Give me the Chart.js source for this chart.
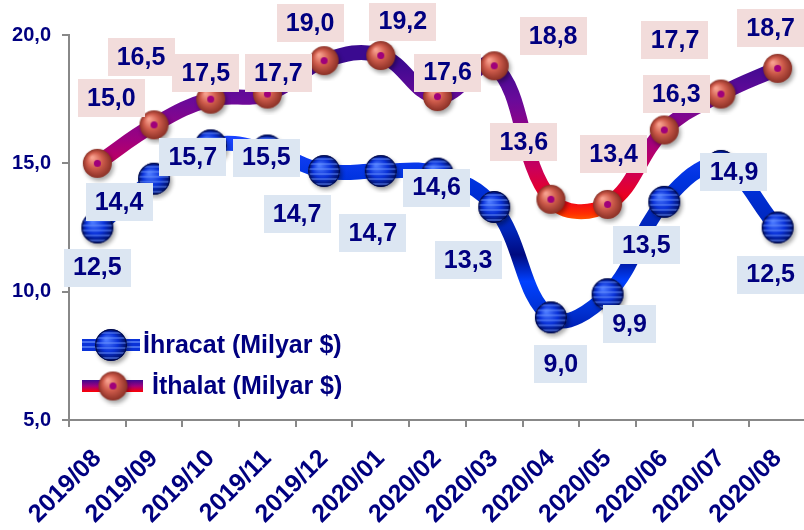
<!DOCTYPE html>
<html>
<head>
<meta charset="utf-8">
<script src="https://cdn.jsdelivr.net/npm/chart.js@4.4.1/dist/chart.umd.min.js"></script>
<style>
  html, body { margin: 0; padding: 0; background: #fff; overflow: hidden; }
  #kutu { width: 825px; height: 530px; }
</style>
</head>
<body>
<div id="kutu"><canvas id="grafik" width="825" height="530"></canvas></div>
<script>
// veriler (Milyar $)
const aylar = ['2019/08', '2019/09', '2019/10', '2019/11', '2019/12', '2020/01', '2020/02',
               '2020/03', '2020/04', '2020/05', '2020/06', '2020/07', '2020/08'];
const ihracat = [12.5, 14.4, 15.7, 15.5, 14.7, 14.7, 14.6, 13.3, 9.0, 9.9, 13.5, 14.9, 12.5];
const ithalat = [15.0, 16.5, 17.5, 17.7, 19.0, 19.2, 17.6, 18.8, 13.6, 13.4, 16.3, 17.7, 18.7];
const yTikler = [5, 10, 15, 20];
const seriAdlari = ['İhracat (Milyar $)', 'İthalat (Milyar $)'];

// etiket kutularinin noktaya gore kaymasi [dx, dy] (px)
const ihrKayma = [[0, 40], [-35, 23], [-18, 12], [-1, 7], [-27, 43], [-8, 62], [-1, 14],
                  [-26, 53], [10, 47], [22, 30], [-18, 43], [13, 6], [-7, 47]];
const ithKayma = [[14, -65], [-13, -68], [-5, -26], [11, -21], [-14, -38], [22, -34], [10, -24],
                  [59, -30], [-27, -57], [6, -50], [12, -36], [-46, -54], [-7, -40]];

const LACI = '#000080';
const FONT = '"Liberation Sans", Arial, sans-serif';
const fmt = v => v.toFixed(1).replace('.', ',');

// kure seklinde nokta resimleri
function maviKure(r) {
  const s = r * 2 + 12, c = document.createElement('canvas');
  c.width = c.height = s;
  const g = c.getContext('2d'), m = s / 2;
  g.save();
  g.shadowColor = 'rgba(0,0,0,0.35)'; g.shadowBlur = 4; g.shadowOffsetX = 2; g.shadowOffsetY = 3;
  const rg = g.createRadialGradient(m - r * 0.3, m - r * 0.35, 1, m, m, r);
  rg.addColorStop(0, '#4a78ff'); rg.addColorStop(0.55, '#0a32d8'); rg.addColorStop(1, '#000e60');
  g.beginPath(); g.arc(m, m, r, 0, Math.PI * 2); g.fillStyle = rg; g.fill();
  g.restore();
  g.save();
  g.beginPath(); g.arc(m, m, r, 0, Math.PI * 2); g.clip();
  g.fillStyle = 'rgba(110,150,255,0.45)';
  for (let k = -r + 3; k < r; k += 5) g.fillRect(m - r, m + k, r * 2, 2);
  g.restore();
  g.beginPath(); g.arc(m, m, r - 0.5, 0, Math.PI * 2);
  g.strokeStyle = '#000a4a'; g.lineWidth = 1; g.stroke();
  return c;
}

function kirmiziKure(r) {
  const s = r * 2 + 12, c = document.createElement('canvas');
  c.width = c.height = s;
  const g = c.getContext('2d'), m = s / 2;
  g.save();
  g.shadowColor = 'rgba(0,0,0,0.35)'; g.shadowBlur = 4; g.shadowOffsetX = 2; g.shadowOffsetY = 3;
  const rg = g.createRadialGradient(m - r * 0.35, m - r * 0.4, 1, m, m, r);
  rg.addColorStop(0, '#f7a08e'); rg.addColorStop(0.5, '#cf5c4c'); rg.addColorStop(1, '#8a3026');
  g.beginPath(); g.arc(m, m, r, 0, Math.PI * 2); g.fillStyle = rg; g.fill();
  g.restore();
  g.beginPath(); g.arc(m, m, 3.5, 0, Math.PI * 2); g.fillStyle = '#a0007a'; g.fill();
  return c;
}

const maviNokta = maviKure(16);
const kirmiziNokta = kirmiziKure(14.5);

function ihrRenk(c) {
  const ch = c.chart, y = ch.scales.y;
  if (!ch.chartArea || !y) return '#0a32d8';
  const g = ch.ctx.createLinearGradient(0, y.getPixelForValue(16), 0, y.getPixelForValue(8));
  g.addColorStop(0, '#1a44ff');
  g.addColorStop(0.2, '#0033e0');
  g.addColorStop(0.45, '#0025b8');
  g.addColorStop(0.57, '#000a80');
  g.addColorStop(0.7, '#0040ff');
  g.addColorStop(0.85, '#0030d0');
  g.addColorStop(1, '#00109a');
  return g;
}

function ithRenk(c) {
  const ch = c.chart, y = ch.scales.y;
  if (!ch.chartArea || !y) return '#7a0a9a';
  const g = ch.ctx.createLinearGradient(0, y.getPixelForValue(20), 0, y.getPixelForValue(12.5));
  g.addColorStop(0.13, '#3a0a90');
  g.addColorStop(0.34, '#6a0a9a');
  g.addColorStop(0.55, '#a0007e');
  g.addColorStop(0.70, '#cc0058');
  g.addColorStop(0.86, '#f00018');
  g.addColorStop(0.93, '#ff3000');
  g.addColorStop(1, '#ff8c00');
  return g;
}

// deger etiketleri (kutulu)
const etiketEklentisi = {
  id: 'etiketler',
  afterDatasetsDraw(chart) {
    const ctx = chart.ctx;
    const kaymalar = [ihrKayma, ithKayma];
    const zeminler = ['#dce6f2', '#f2dcdb'];
    ctx.save();
    ctx.font = 'bold 25px ' + FONT;
    ctx.textAlign = 'center';
    ctx.textBaseline = 'middle';
    chart.data.datasets.forEach((ds, i) => {
      chart.getDatasetMeta(i).data.forEach((pt, j) => {
        const [dx, dy] = kaymalar[i][j];
        const txt = fmt(ds.data[j]);
        const w = Math.round(ctx.measureText(txt).width + 18), h = 38;
        const x = pt.x + dx, y = pt.y + dy;
        ctx.fillStyle = zeminler[i];
        ctx.fillRect(Math.round(x - w / 2), Math.round(y - h / 2), w, h);
        ctx.fillStyle = LACI;
        ctx.fillText(txt, x, y + 1);
      });
    });
    ctx.restore();
  }
};

// grafik icindeki lejant
const lejantEklentisi = {
  id: 'lejant',
  afterDraw(chart) {
    const ctx = chart.ctx, a = chart.chartArea;
    const x0 = a.left + 13;
    ctx.save();
    // ihracat
    let y = a.top + 310;
    ctx.fillStyle = '#0a32d8';
    ctx.fillRect(x0, y - 6, 58, 12);
    ctx.fillStyle = 'rgba(110,150,255,0.6)';
    ctx.fillRect(x0, y - 4, 58, 2);
    ctx.fillRect(x0, y + 1, 58, 2);
    ctx.drawImage(maviNokta, x0 + 29 - maviNokta.width / 2, y - maviNokta.height / 2);
    ctx.font = 'bold 25px ' + FONT;
    ctx.textBaseline = 'middle';
    ctx.fillStyle = LACI;
    ctx.fillText(seriAdlari[0], x0 + 61, y + 1);
    // ithalat
    y = a.top + 351;
    const g = ctx.createLinearGradient(0, y - 6, 0, y + 6);
    g.addColorStop(0, '#3a0a90'); g.addColorStop(0.5, '#a0007e'); g.addColorStop(1, '#ff0000');
    ctx.fillStyle = g;
    ctx.fillRect(x0, y - 6, 61, 12);
    ctx.drawImage(kirmiziNokta, x0 + 31 - kirmiziNokta.width / 2, y - kirmiziNokta.height / 2);
    ctx.fillStyle = LACI;
    ctx.fillText(seriAdlari[1], x0 + 70, y + 1);
    ctx.restore();
  }
};

new Chart(document.getElementById('grafik'), {
  type: 'line',
  data: {
    labels: aylar,
    datasets: [{
      label: seriAdlari[0],
      data: ihracat,
      borderColor: ihrRenk,
      borderWidth: 15,
      tension: 0.4,
      borderCapStyle: 'round',
      borderJoinStyle: 'round',
      pointStyle: maviNokta,
      fill: false
    }, {
      label: seriAdlari[1],
      data: ithalat,
      borderColor: ithRenk,
      borderWidth: 15,
      tension: 0.4,
      borderCapStyle: 'round',
      borderJoinStyle: 'round',
      pointStyle: kirmiziNokta,
      fill: false
    }]
  },
  options: {
    responsive: false,
    animation: false,
    layout: { padding: { top: 35, right: 0, left: 0, bottom: 0 } },
    plugins: {
      legend: { display: false },
      tooltip: { enabled: false }
    },
    scales: {
      x: {
        offset: true,
        grid: { display: true, drawOnChartArea: false, offset: true, tickLength: 7, color: '#888', lineWidth: 2 },
        border: { color: '#888', width: 2 },
        ticks: {
          color: LACI,
          font: { family: FONT, size: 25, weight: 'bold' },
          minRotation: 45, maxRotation: 45, padding: 17, autoSkip: false
        },
        afterFit(s) { s.height = 110; }
      },
      y: {
        min: 5, max: 20,
        afterBuildTicks(s) { s.ticks = yTikler.map(v => ({ value: v })); },
        grid: { display: true, drawOnChartArea: false, tickLength: 7, color: '#888', lineWidth: 2 },
        border: { color: '#888', width: 2 },
        ticks: {
          color: LACI,
          font: { family: FONT, size: 20, weight: 'bold' },
          padding: 11,
          callback: v => fmt(v)
        },
        afterFit(s) { s.width = 69; }
      }
    }
  },
  plugins: [etiketEklentisi, lejantEklentisi]
});
</script>
</body>
</html>
